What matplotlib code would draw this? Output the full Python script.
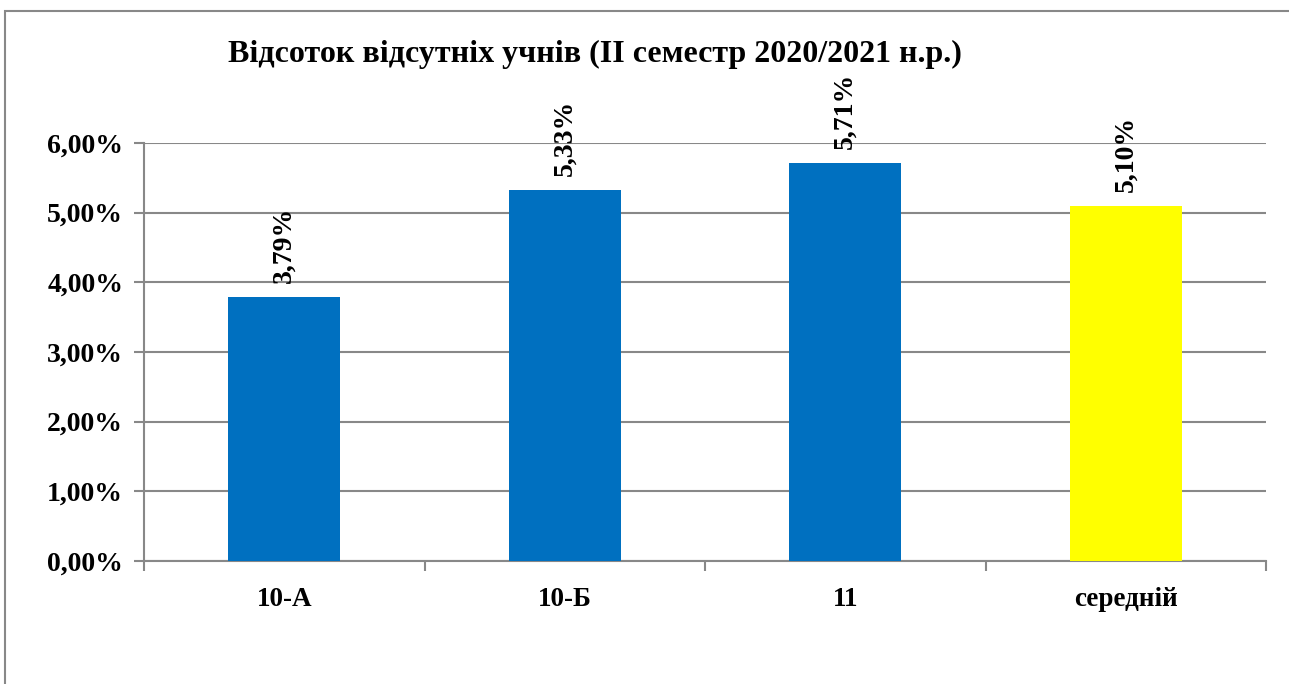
import numpy as np
import matplotlib.pyplot as plt
from matplotlib.patches import Rectangle

# --- Дані ---
classes = ['10-А', '10-Б', '11', 'середній']
absent = [0.0379, 0.0533, 0.0571, 0.0510]
labels = ['3,79%', '5,33%', '5,71%', '5,10%']
colors = ['#0070C0', '#0070C0', '#0070C0', '#FFFF00']
yticks = [0.0, 0.01, 0.02, 0.03, 0.04, 0.05, 0.06]
ytick_labels = ['0,00%', '1,00%', '2,00%', '3,00%', '4,00%', '5,00%', '6,00%']

plt.rcParams['font.family'] = ['Liberation Serif', 'DejaVu Serif']
plt.rcParams['font.weight'] = 'bold'

W, H = 1289, 684
fig = plt.figure(figsize=(W / 100, H / 100), dpi=100)
ax = fig.add_axes([144 / W, 1 - 561 / H, (1266 - 144) / W, (561 - 143) / H])

# --- Рамка навколо діаграми ---
fig.patches.append(Rectangle((5 / W, -0.05), 1.1, 1 - 11 / H + 0.05,
                             transform=fig.transFigure, fill=False,
                             edgecolor='#888888', linewidth=1.5))

x = np.arange(len(classes))
ax.bar(x, absent, width=0.4, color=colors, edgecolor='none', zorder=3)

for xi, v, t in zip(x, absent, labels):
    ax.annotate(t, (xi, v), xytext=(0, 10), textcoords='offset points',
                rotation=90, ha='center', va='bottom', fontsize=20,
                fontweight='bold', annotation_clip=False, clip_on=False)

ax.set_xlim(-0.5, len(classes) - 0.5)
ax.set_ylim(0, 0.06)
ax.set_yticks(yticks)
ax.set_yticklabels(ytick_labels, fontsize=20, fontweight='bold')
ax.set_xticks(x)
ax.set_xticklabels(classes, fontsize=19.5, fontweight='bold')
ax.tick_params(axis='x', length=0, pad=19)
ax.tick_params(axis='y', length=7, color='#888888', width=1.5, pad=8)

# риски між категоріями
ax.set_xticks(np.arange(-0.5, len(classes)), minor=True)
ax.tick_params(axis='x', which='minor', length=7, color='#888888', width=1.5)

ax.yaxis.grid(True, color='#888888', linewidth=1.5, zorder=0)
for s in ['top', 'right']:
    ax.spines[s].set_visible(False)
for s in ['left', 'bottom']:
    ax.spines[s].set_color('#888888')
    ax.spines[s].set_linewidth(1.5)

fig.text(595 / W, 1 - 54 / H, 'Відсоток відсутніх учнів (II семестр 2020/2021 н.р.)',
         ha='center', va='center', fontsize=23, fontweight='bold')

fig.savefig('out.png', dpi=100)
